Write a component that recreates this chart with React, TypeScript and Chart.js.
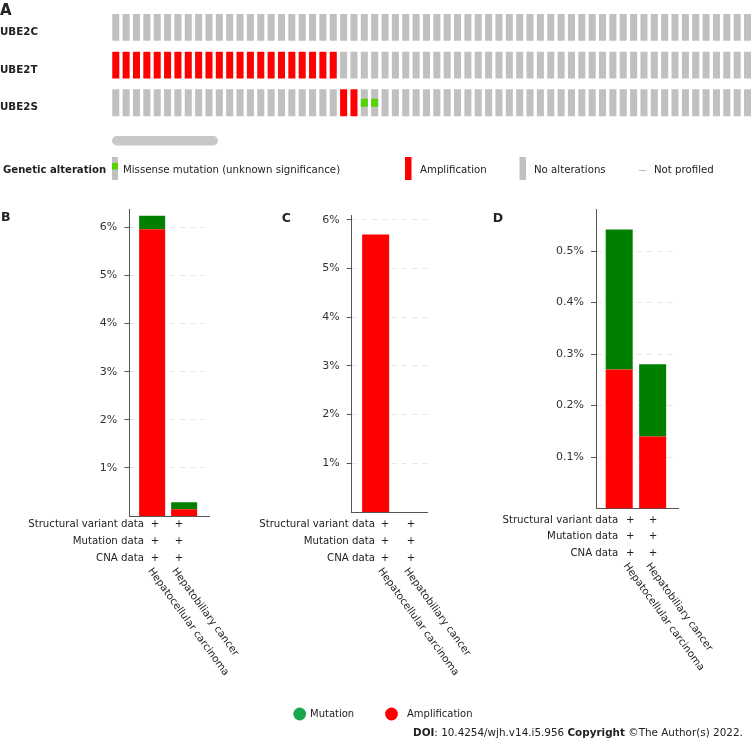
import React, { useEffect, useRef } from 'react';
import { Chart, registerables } from 'chart.js';

Chart.register(...registerables);

const FONT = '"DejaVu Sans", Verdana, sans-serif';
const TEXT = '#222222';
const AMP_COLOR = '#ff0000';
const NO_ALT_COLOR = '#c0c0c0';
const MISSENSE_COLOR = '#53d400';
const BAR_MUT_COLOR = '#008000';
const LEGEND_MUT_COLOR = '#1aa84f';

// ---------- Panel A (oncoprint) data ----------
const GENES = ['UBE2C', 'UBE2T', 'UBE2S'];
// one character per sample: A = amplification, M = missense mutation (VUS), - = no alteration
const UBE2C_STATUS = '----------' + '----------' + '----------' + '----------' + '----------' + '----------' + '--';
const UBE2T_STATUS = 'AAAAAAAAAA' + 'AAAAAAAAAA' + 'AA--------' + '----------' + '----------' + '----------' + '--';
const UBE2S_STATUS = '----------' + '----------' + '--AAMM----' + '----------' + '----------' + '----------' + '--';
const GENE_STATUS = [UBE2C_STATUS, UBE2T_STATUS, UBE2S_STATUS];
const ALTERATION_TITLE = 'Genetic alteration';
const ALTERATION_LABELS = ['Missense mutation (unknown significance)', 'Amplification', 'No alterations', 'Not profiled'];

// ---------- Panels B-D data ----------
const CANCER_TYPES = ['Hepatocellular carcinoma', 'Hepatobiliary cancer'];
const PROFILE_ROWS = ['Structural variant data', 'Mutation data', 'CNA data'];
const SERIES_NAMES = ['Mutation', 'Amplification'];
const B_AMPLIFICATION = [5.96, 0.14];
const B_MUTATION = [0.28, 0.145];
const B_TICKS = [1, 2, 3, 4, 5, 6];
const C_AMPLIFICATION = [5.7, 0];
const C_MUTATION = [0, 0];
const C_TICKS = [1, 2, 3, 4, 5, 6];
const D_AMPLIFICATION = [0.27, 0.14];
const D_MUTATION = [0.272, 0.14];
const D_TICKS = [0.1, 0.2, 0.3, 0.4, 0.5];

const DOI_PARTS: [string, boolean][] = [
  ['DOI', true],
  [': 10.4254/wjh.v14.i5.956 ', false],
  ['Copyright', true],
  [' \u00A9The Author(s) 2022.', false],
];

const PAGE_W = 751;
const PAGE_H = 744;
const ONCO_W = 760;
const ONCO_H = 190;

type PanelSpec = {
  letter: string;
  letterX: number;
  letterY: number;
  area: { left: number; top: number; right: number; bottom: number };
  xMin: number;
  xMax: number;
  yMax: number;
  ticks: number[];
  decimals: number;
  amp: number[];
  mut: number[];
  barThickness: number;
  rowRight: number;
  rowYs: number[];
  plusXs: number[];
};

const PANELS: PanelSpec[] = [
  {
    letter: 'B', letterX: 1, letterY: 220.7,
    area: { left: 129.3, top: 209, right: 209, bottom: 516 },
    xMin: -0.714, xMax: 1.777, yMax: 6.38, ticks: B_TICKS, decimals: 0,
    amp: B_AMPLIFICATION, mut: B_MUTATION, barThickness: 26,
    rowRight: 144, rowYs: [524.3, 541.3, 558.3], plusXs: [155, 179],
  },
  {
    letter: 'C', letterX: 281.7, letterY: 221.7,
    area: { left: 351.7, top: 215, right: 427.7, bottom: 512 },
    xMin: -0.748, xMax: 1.627, yMax: 6.1, ticks: C_TICKS, decimals: 0,
    amp: C_AMPLIFICATION, mut: C_MUTATION, barThickness: 27,
    rowRight: 375, rowYs: [524.3, 541.3, 558.3], plusXs: [385, 411],
  },
  {
    letter: 'D', letterX: 492.7, letterY: 221.7,
    area: { left: 596, top: 209.3, right: 678.3, bottom: 508.5 },
    xMin: -0.694, xMax: 1.767, yMax: 0.581, ticks: D_TICKS, decimals: 1,
    amp: D_AMPLIFICATION, mut: D_MUTATION, barThickness: 27,
    rowRight: 618.3, rowYs: [520, 536.7, 553.3], plusXs: [630.3, 653],
  },
];

function roundRect(ctx: CanvasRenderingContext2D, x: number, y: number, w: number, h: number, r: number) {
  ctx.beginPath();
  ctx.moveTo(x + r, y);
  ctx.lineTo(x + w - r, y);
  ctx.arc(x + w - r, y + r, r, -Math.PI / 2, Math.PI / 2);
  ctx.lineTo(x + r, y + h);
  ctx.arc(x + r, y + r, r, Math.PI / 2, (3 * Math.PI) / 2);
  ctx.closePath();
  ctx.fill();
}

const oncoDecor = {
  id: 'oncoDecor',
  afterDraw(chart: any) {
    const ctx: CanvasRenderingContext2D = chart.ctx;
    ctx.save();
    ctx.fillStyle = TEXT;
    ctx.font = `bold 15px ${FONT}`;
    ctx.textAlign = 'left';
    ctx.textBaseline = 'alphabetic';
    ctx.fillText('A', 0, 15);

    // horizontal scrollbar
    ctx.fillStyle = '#c8c8c8';
    roundRect(ctx, 112, 136, 106, 9.4, 4.7);

    // genetic alteration legend
    const ly = 170;
    ctx.fillStyle = TEXT;
    ctx.font = `bold 10.1px ${FONT}`;
    ctx.textBaseline = 'middle';
    ctx.fillText(ALTERATION_TITLE, 3, ly);

    ctx.fillStyle = NO_ALT_COLOR;
    ctx.fillRect(112, 157, 6, 23);
    ctx.fillStyle = MISSENSE_COLOR;
    ctx.fillRect(112, 163, 6, 6.5);

    ctx.fillStyle = AMP_COLOR;
    ctx.fillRect(405, 157, 6.5, 23);

    ctx.fillStyle = NO_ALT_COLOR;
    ctx.fillRect(519.5, 157, 6.5, 23);

    ctx.strokeStyle = '#bbbbbb';
    ctx.lineWidth = 1;
    ctx.beginPath();
    ctx.moveTo(639, ly + 0.5);
    ctx.lineTo(646, ly + 0.5);
    ctx.stroke();

    ctx.fillStyle = TEXT;
    ctx.font = `10.2px ${FONT}`;
    ctx.fillText(ALTERATION_LABELS[0], 123, ly);
    ctx.fillText(ALTERATION_LABELS[1], 420, ly);
    ctx.fillText(ALTERATION_LABELS[2], 534, ly);
    ctx.fillText(ALTERATION_LABELS[3], 654, ly);
    ctx.restore();
  },
};

function panelDecor(p: PanelSpec) {
  return {
    id: 'panelDecor' + p.letter,
    afterDraw(chart: any) {
      const ctx: CanvasRenderingContext2D = chart.ctx;
      ctx.save();
      ctx.fillStyle = TEXT;
      ctx.font = `bold 12.5px ${FONT}`;
      ctx.textAlign = 'left';
      ctx.textBaseline = 'alphabetic';
      ctx.fillText(p.letter, p.letterX, p.letterY);

      ctx.font = `10.2px ${FONT}`;
      ctx.textBaseline = 'middle';
      PROFILE_ROWS.forEach((row, k) => {
        const y = p.rowYs[k];
        ctx.textAlign = 'right';
        ctx.fillText(row, p.rowRight, y);
        ctx.textAlign = 'center';
        p.plusXs.forEach((x) => ctx.fillText('+', x, y));
      });

      ctx.textAlign = 'left';
      CANCER_TYPES.forEach((name, j) => {
        ctx.save();
        ctx.translate(p.plusXs[j] - 5, p.rowYs[2] + 11);
        ctx.rotate((54 * Math.PI) / 180);
        ctx.fillText(name, 0, 0);
        ctx.restore();
      });
      ctx.restore();
    },
  };
}

const figureDecor = {
  id: 'figureDecor',
  afterDraw(chart: any) {
    const ctx: CanvasRenderingContext2D = chart.ctx;
    ctx.save();
    const y = 714;
    ctx.fillStyle = LEGEND_MUT_COLOR;
    ctx.beginPath();
    ctx.arc(299.7, y, 6.4, 0, Math.PI * 2);
    ctx.fill();
    ctx.fillStyle = AMP_COLOR;
    ctx.beginPath();
    ctx.arc(391.5, y, 6.4, 0, Math.PI * 2);
    ctx.fill();
    ctx.fillStyle = TEXT;
    ctx.font = `10px ${FONT}`;
    ctx.textAlign = 'left';
    ctx.textBaseline = 'middle';
    ctx.fillText(SERIES_NAMES[0], 310, y);
    ctx.fillText(SERIES_NAMES[1], 407, y);

    let x = 413;
    const dy = 733;
    DOI_PARTS.forEach(([txt, bold]) => {
      ctx.font = `${bold ? 'bold ' : ''}10.4px ${FONT}`;
      ctx.fillText(txt, x, dy);
      x += ctx.measureText(txt).width;
    });
    ctx.restore();
  },
};

function oncoprintConfig(): any {
  const sampleIds = Array.from(UBE2C_STATUS, (_, i) => `S${i + 1}`);
  const common = { grouped: false, categoryPercentage: 1, barPercentage: 0.68, borderWidth: 0, inflateAmount: 0 };
  const cellSets = GENE_STATUS.map((status, r) => ({
    ...common,
    order: 2,
    label: GENES[r],
    data: Array.from(status, () => [r + 0.144, r + 0.856]),
    backgroundColor: Array.from(status, (s) => (s === 'A' ? AMP_COLOR : NO_ALT_COLOR)),
  }));
  const mutSets = GENE_STATUS.map((status, r) => ({
    ...common,
    order: 1,
    label: GENES[r] + ' missense',
    data: Array.from(status, (s) => (s === 'M' ? [r + 0.394, r + 0.606] : null)),
    backgroundColor: MISSENSE_COLOR,
  }));
  return {
    type: 'bar',
    data: { labels: sampleIds, datasets: [...cellSets, ...mutSets] },
    options: {
      animation: false,
      responsive: false,
      maintainAspectRatio: false,
      events: [],
      layout: { padding: { left: 0, top: 8.6, right: ONCO_W - 752.7, bottom: ONCO_H - 121.6 } },
      plugins: { legend: { display: false }, tooltip: { enabled: false } },
      scales: {
        x: { type: 'category', offset: true, display: false, grid: { display: false } },
        y: {
          type: 'linear',
          min: 0,
          max: 3,
          reverse: true,
          bounds: 'data',
          grid: { display: false },
          border: { display: false },
          afterFit: (s: any) => { s.width = 110.6; },
          afterBuildTicks: (s: any) => { s.ticks = GENES.map((_, r) => ({ value: r + 0.63 })); },
          ticks: {
            crossAlign: 'far',
            padding: 0,
            autoSkip: false,
            color: TEXT,
            font: { family: FONT, size: 10.3, weight: 'bold' },
            callback: (v: number) => GENES[Math.floor(v)],
          },
        },
      },
    },
    plugins: [oncoDecor],
  };
}

function panelConfig(p: PanelSpec, extra: any[]): any {
  return {
    type: 'bar',
    data: {
      datasets: [
        {
          label: SERIES_NAMES[1],
          data: p.amp.map((v, i) => ({ x: i, y: v })),
          backgroundColor: AMP_COLOR,
          barThickness: p.barThickness,
          grouped: false,
          borderWidth: 0,
          inflateAmount: 0,
        },
        {
          label: SERIES_NAMES[0],
          data: p.mut.map((v, i) => ({ x: i, y: v })),
          backgroundColor: BAR_MUT_COLOR,
          barThickness: p.barThickness,
          grouped: false,
          borderWidth: 0,
          inflateAmount: 0,
        },
      ],
    },
    options: {
      animation: false,
      responsive: false,
      maintainAspectRatio: false,
      events: [],
      layout: {
        padding: { left: 0, top: p.area.top, right: PAGE_W - p.area.right, bottom: PAGE_H - p.area.bottom },
      },
      plugins: { legend: { display: false }, tooltip: { enabled: false } },
      scales: {
        x: {
          type: 'linear',
          min: p.xMin,
          max: p.xMax,
          bounds: 'data',
          offset: false,
          grid: { display: false },
          ticks: { display: false },
          border: { display: true, color: '#555555', width: 1 },
          afterFit: (s: any) => { s.height = 0; },
        },
        y: {
          type: 'linear',
          stacked: true,
          min: 0,
          max: p.yMax,
          bounds: 'data',
          afterFit: (s: any) => { s.width = p.area.left; },
          afterBuildTicks: (s: any) => { s.ticks = p.ticks.map((v) => ({ value: v })); },
          ticks: {
            padding: 7,
            autoSkip: false,
            color: '#333333',
            font: { family: FONT, size: 11 },
            callback: (v: number) => `${Number(v).toFixed(p.decimals)}%`,
          },
          grid: { color: '#e6e6e6', lineWidth: 1, tickColor: '#555555', tickLength: 5, tickWidth: 1, drawOnChartArea: true },
          border: { display: true, color: '#555555', width: 1, dash: [5, 5] },
        },
      },
    },
    plugins: [panelDecor(p), ...extra],
  };
}

export default function App() {
  const oncoRef = useRef<HTMLCanvasElement>(null);
  const bRef = useRef<HTMLCanvasElement>(null);
  const cRef = useRef<HTMLCanvasElement>(null);
  const dRef = useRef<HTMLCanvasElement>(null);

  useEffect(() => {
    document.body.style.margin = '0';
    Chart.defaults.font.family = FONT;
    Chart.defaults.color = TEXT;
    const charts: Chart[] = [];
    if (oncoRef.current) charts.push(new Chart(oncoRef.current, oncoprintConfig()));
    const refs = [bRef, cRef, dRef];
    PANELS.forEach((p, i) => {
      const el = refs[i].current;
      if (el) charts.push(new Chart(el, panelConfig(p, i === 2 ? [figureDecor] : [])));
    });
    return () => charts.forEach((c) => c.destroy());
  }, []);

  const full: React.CSSProperties = { position: 'absolute', left: 0, top: 0, width: PAGE_W, height: PAGE_H };
  return (
    <div style={{ position: 'absolute', left: 0, top: 0, width: PAGE_W, height: PAGE_H, overflow: 'hidden', background: '#ffffff' }}>
      <canvas ref={oncoRef} width={ONCO_W} height={ONCO_H} style={{ position: 'absolute', left: 0, top: 0, width: ONCO_W, height: ONCO_H }} />
      <canvas ref={bRef} width={PAGE_W} height={PAGE_H} style={full} />
      <canvas ref={cRef} width={PAGE_W} height={PAGE_H} style={full} />
      <canvas ref={dRef} width={PAGE_W} height={PAGE_H} style={full} />
    </div>
  );
}
